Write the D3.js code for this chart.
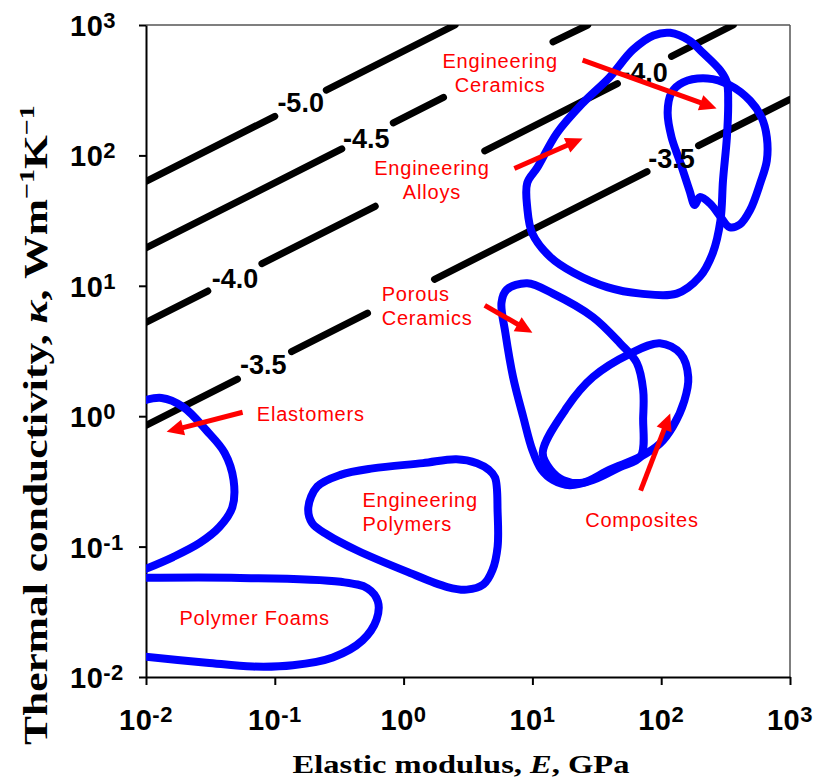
<!DOCTYPE html>
<html>
<head>
<meta charset="utf-8">
<script src="https://cdn.jsdelivr.net/npm/d3@7"></script>
<style>
  body { margin: 0; background: #fff; }
  svg { display: block; }
  .ticklab { font-family: "Liberation Sans", Arial, sans-serif; font-weight: bold; font-size: 29px; letter-spacing: 0.5px; fill: #000; }
  .clab { font-family: "Liberation Sans", Arial, sans-serif; font-weight: bold; font-size: 27px; fill: #000; }
  .rlab { font-family: "Liberation Sans", Arial, sans-serif; font-size: 20px; letter-spacing: 0.8px; fill: #ff0000; }
  .title { font-family: "Liberation Serif", "Times New Roman", serif; font-weight: bold; fill: #000; }
</style>
</head>
<body>
<svg id="chart" width="820" height="783"></svg>
<script>
// decade ticks on both axes
const xTicks = [1e-2, 1e-1, 1e0, 1e1, 1e2, 1e3];
const yTicks = [1e-2, 1e-1, 1e0, 1e1, 1e2, 1e3];
const tickExp = ["-2", "-1", "0", "1", "2", "3"];

// every point below is [log10 E (GPa), log10 kappa (W/mK)]

// contour lines, split where the labels sit
const contour50 = [[[-2, 1.80], [-1.00, 2.30]], [[-0.60, 2.50], [0.40, 3.00]]];
const contour45 = [[[-2, 1.29], [-0.48, 2.05]], [[-0.08, 2.25], [0.31, 2.445]], [[1.16, 2.87], [1.43, 3.00]]];
const contour40 = [[[-2, 0.72], [-1.52, 0.96]], [[-1.10, 1.17], [-0.22, 1.61]], [[0.63, 2.035], [1.66, 2.55]], [[2.08, 2.76], [2.56, 3.00]]];
const contour35 = [[[-2, -0.07], [-1.29, 0.285]], [[-0.87, 0.495], [-0.28, 0.79]], [[0.24, 1.05], [1.89, 1.875]], [[2.29, 2.075], [3.0, 2.43]]];
const contours = [contour50, contour45, contour40, contour35];

const contourText = ["-5.0", "-4.5", "-4.0", "-3.5", "-4.0", "-3.5"];
const contourTextAt = [[-0.98, 2.33], [-0.47, 2.06], [-1.49, 0.98], [-1.27, 0.32], [1.69, 2.56], [1.90, 1.90]];

// material envelopes (open ones run off the left axis)
const elastomers = [[-2.05, 0.11], [-1.88, 0.14], [-1.71, 0.07], [-1.53, -0.11], [-1.39, -0.28], [-1.32, -0.49],
  [-1.33, -0.70], [-1.43, -0.85], [-1.58, -0.97], [-1.79, -1.08], [-2.05, -1.19]];
const polymerFoams = [[-2.05, -1.24], [-1.27, -1.24], [-0.49, -1.27], [-0.28, -1.32], [-0.20, -1.42], [-0.21, -1.56],
  [-0.32, -1.72], [-0.55, -1.85], [-0.86, -1.91], [-1.17, -1.92], [-1.53, -1.89], [-2.05, -1.84]];
const engPolymers = [[-0.74, -0.70], [-0.67, -0.54], [-0.49, -0.45], [-0.24, -0.40], [0.15, -0.36], [0.41, -0.33],
  [0.57, -0.36], [0.66, -0.41], [0.71, -0.47], [0.73, -0.74], [0.73, -1.00], [0.69, -1.18], [0.62, -1.29],
  [0.49, -1.33], [0.34, -1.31], [0.02, -1.19], [-0.36, -1.03], [-0.59, -0.91], [-0.71, -0.82]];
const porousCeramics = [[0.76, 0.87], [0.80, 0.97], [0.96, 1.02], [1.16, 0.94], [1.47, 0.76], [1.68, 0.56],
  [1.81, 0.41], [1.86, 0.20], [1.86, -0.01], [1.84, -0.31], [1.68, -0.39], [1.47, -0.49], [1.29, -0.53],
  [1.16, -0.49], [1.07, -0.41], [1.00, -0.26], [0.93, -0.01], [0.85, 0.30], [0.79, 0.64]];
const composites = [[1.08, -0.28], [1.27, 0.07], [1.47, 0.30], [1.76, 0.48], [1.99, 0.56], [2.15, 0.48],
  [2.21, 0.30], [2.18, 0.12], [2.09, -0.08], [1.99, -0.21], [1.84, -0.31], [1.60, -0.41], [1.39, -0.51],
  [1.24, -0.49], [1.14, -0.41]];
const engAlloys = [[2.07, 2.94], [2.22, 2.88], [2.32, 2.79], [2.46, 2.65], [2.51, 2.56], [2.52, 2.40],
  [2.51, 2.14], [2.48, 1.81], [2.46, 1.50], [2.40, 1.25], [2.30, 1.07], [2.12, 0.94], [1.84, 0.94],
  [1.58, 0.99], [1.32, 1.10], [1.14, 1.22], [1.00, 1.40], [0.96, 1.60], [0.96, 1.79], [1.04, 1.91],
  [1.19, 2.17], [1.39, 2.40], [1.60, 2.60], [1.78, 2.81], [1.94, 2.92]];
const engCeramics = [[2.22, 1.73], [2.26, 1.62], [2.30, 1.68], [2.38, 1.63], [2.46, 1.53], [2.53, 1.45],
  [2.61, 1.47], [2.69, 1.58], [2.77, 1.79], [2.82, 1.96], [2.82, 2.14], [2.78, 2.29], [2.69, 2.42],
  [2.53, 2.54], [2.36, 2.59], [2.17, 2.56], [2.08, 2.48], [2.05, 2.33], [2.08, 2.14], [2.15, 1.94]];
const openEnvelopes = [elastomers, polymerFoams];
const closedEnvelopes = [engPolymers, porousCeramics, composites, engAlloys, engCeramics];

// arrows: [tail, tip]
const arrows = [
  [[-1.25, 0.03], [-1.84, -0.12]],
  [[0.63, 0.85], [1.00, 0.64]],
  [[1.84, -0.57], [2.07, 0.02]],
  [[0.86, 1.90], [1.39, 2.13]],
  [[1.39, 2.73], [2.43, 2.36]]
];

// material names
const labelLines = [["Elastomers"], ["Polymer Foams"], ["Engineering", "Polymers"], ["Porous", "Ceramics"],
  ["Composites"], ["Engineering", "Alloys"], ["Engineering", "Ceramics"]];
const labelAt = [[-1.14, -0.04], [-1.74, -1.60], [-0.32, -0.70], [-0.17, 0.88], [1.41, -0.85], [0.22, 1.85], [0.75, 2.67]];
const labelAnchor = ["start", "start", "start", "start", "start", "middle", "middle"];

const svg = d3.select("#chart");
const x = d3.scaleLog().domain([1e-2, 1e3]).range([146, 790]);
const y = d3.scaleLog().domain([1e-2, 1e3]).range([677, 25]);
const px = d => x(Math.pow(10, d[0]));
const py = d => y(Math.pow(10, d[1]));
const [x0, x1] = x.range();
const [y1, y0] = y.range();

svg.append("defs").append("clipPath").attr("id", "plot")
  .append("rect").attr("x", x0).attr("y", y0).attr("width", x1 - x0).attr("height", y1 - y0);

// frame: grey top / right
svg.append("line").attr("x1", x0).attr("x2", x1).attr("y1", y0).attr("y2", y0)
  .attr("stroke", "#555").attr("stroke-width", 1.5);
svg.append("line").attr("x1", x1).attr("x2", x1).attr("y1", y0).attr("y2", y1)
  .attr("stroke", "#555").attr("stroke-width", 1.5);

// axes
const gx = svg.append("g").attr("transform", `translate(0,${y1})`)
  .call(d3.axisBottom(x).tickValues(xTicks).tickSize(8).tickSizeOuter(0).tickFormat(""));
const gy = svg.append("g").attr("transform", `translate(${x0},0)`)
  .call(d3.axisLeft(y).tickValues(yTicks).tickSize(7).tickSizeOuter(0).tickFormat(""));
[gx, gy].forEach(g => {
  g.select(".domain").attr("stroke", "#000").attr("stroke-width", 2);
  g.selectAll(".tick line").attr("stroke", "#000").attr("stroke-width", 2);
});

svg.selectAll(".xlab").data(xTicks).join("text")
  .attr("class", "ticklab xlab")
  .attr("x", d => x(d)).attr("y", 730).attr("text-anchor", "middle")
  .each(function (d, i) {
    const t = d3.select(this);
    t.append("tspan").text("10");
    t.append("tspan").attr("dy", -8).attr("font-size", 22).text(tickExp[i]);
  });
svg.selectAll(".ylab").data(yTicks).join("text")
  .attr("class", "ticklab ylab")
  .attr("x", 70).attr("y", d => y(d) + 11)
  .each(function (d, i) {
    const t = d3.select(this);
    t.append("tspan").text("10");
    t.append("tspan").attr("dy", -8).attr("font-size", 22).text(tickExp[i]);
  });

// contour lines
const seg = d3.line().x(px).y(py);
const plot = svg.append("g").attr("clip-path", "url(#plot)");
contours.forEach(c => {
  c.forEach(s => {
    plot.append("path").attr("d", seg(s)).attr("fill", "none")
      .attr("stroke", "#000").attr("stroke-width", 7).attr("stroke-linecap", "round");
  });
});
svg.selectAll(".clab").data(contourText).join("text")
  .attr("class", "clab")
  .attr("x", (d, i) => px(contourTextAt[i])).attr("y", (d, i) => py(contourTextAt[i]))
  .text(d => d);

// envelopes
const openLine = d3.line().x(px).y(py).curve(d3.curveCatmullRom.alpha(0.5));
const closedLine = d3.line().x(px).y(py).curve(d3.curveCatmullRomClosed.alpha(0.5));
openEnvelopes.forEach(e => {
  plot.append("path").attr("d", openLine(e)).attr("fill", "none")
    .attr("stroke", "#0000ff").attr("stroke-width", 8);
});
closedEnvelopes.forEach(e => {
  plot.append("path").attr("d", closedLine(e)).attr("fill", "none")
    .attr("stroke", "#0000ff").attr("stroke-width", 8).attr("stroke-linejoin", "round");
});

// arrows
arrows.forEach(a => {
  const tx = px(a[0]), ty = py(a[0]), hx = px(a[1]), hy = py(a[1]);
  const len = Math.hypot(hx - tx, hy - ty);
  const ux = (hx - tx) / len, uy = (hy - ty) / len;
  const hl = 17, hw = 8;
  const bx = hx - ux * hl, by = hy - uy * hl;
  svg.append("line").attr("x1", tx).attr("y1", ty).attr("x2", bx + ux * 2).attr("y2", by + uy * 2)
    .attr("stroke", "#ff0000").attr("stroke-width", 5);
  svg.append("path")
    .attr("d", `M${hx},${hy}L${bx - uy * hw},${by + ux * hw}L${bx + uy * hw},${by - ux * hw}Z`)
    .attr("fill", "#ff0000");
});

// material names
labelLines.forEach((lines, i) => {
  const t = svg.append("text").attr("class", "rlab")
    .attr("text-anchor", labelAnchor[i]);
  lines.forEach((s, j) => {
    t.append("tspan").attr("x", px(labelAt[i])).attr("y", py(labelAt[i]) + j * 24).text(s);
  });
});

// axis titles (the original type is stretched along the line)
const xt = svg.append("text").attr("class", "title").attr("font-size", 25).attr("text-anchor", "middle");
xt.append("tspan").text("Elastic modulus, ");
xt.append("tspan").attr("font-style", "italic").text("E");
xt.append("tspan").text(", GPa");
const xw = xt.node().getComputedTextLength();
xt.attr("transform", `translate(461,773) scale(${337 / xw},1)`);

const yt = svg.append("text").attr("class", "title").attr("font-size", 34).attr("text-anchor", "middle");
yt.append("tspan").text("Thermal conductivity, ");
yt.append("tspan").attr("font-style", "italic").text("κ");
yt.append("tspan").text(", Wm");
yt.append("tspan").attr("font-size", 22).attr("dy", -13).text("−1");
yt.append("tspan").attr("dy", 13).text("K");
yt.append("tspan").attr("font-size", 22).attr("dy", -13).text("−1");
const yw = yt.node().getComputedTextLength();
yt.attr("transform", `translate(47,425) rotate(-90) scale(${640 / yw},1)`);
</script>
</body>
</html>
